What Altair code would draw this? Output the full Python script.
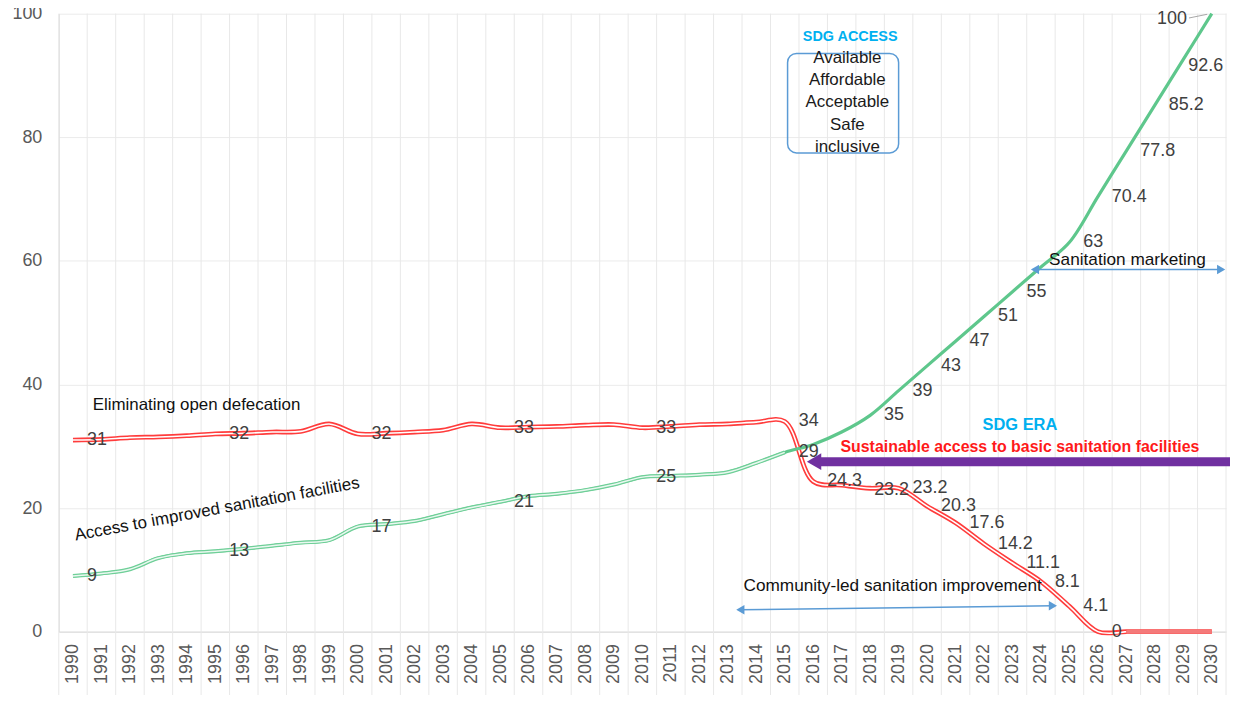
import altair as alt
import pandas as pd

# ---------------- data ----------------
years = list(range(1990, 2031))

red_values = [31, 31.1, 31.4, 31.5, 31.7, 32, 32.1, 32.3, 32.4, 33.6,
              32, 32.1, 32.3, 32.6, 33.6, 33, 33.1, 33.2, 33.4, 33.5,
              33, 33.2, 33.5, 33.6, 33.9, 34, 24.3, 23.7, 23.2, 23.2,
              20.3, 17.6, 14.2, 11.1, 8.1, 4.1, 0, 0, 0, 0, 0]

green_values = [9, 9.4, 10.1, 11.9, 12.7, 13, 13.4, 13.9, 14.4, 14.8,
                17, 17.4, 17.9, 19, 20.1, 21, 21.9, 22.3, 22.9, 23.8,
                25, 25.2, 25.4, 25.8, 27.3, 29, 30.3, 32.3, 35, 39,
                43, 47, 51, 55, 59, 63, 70.4, 77.8, 85.2, 92.6, 100]

red_labels = ["31", "", "", "", "", "32", "", "", "", "",
              "32", "", "", "", "", "33", "", "", "", "",
              "33", "", "", "", "", "34", "24.3", "", "23.2", "23.2",
              "20.3", "17.6", "14.2", "11.1", "8.1", "4.1", "0", "", "", "", ""]

green_labels = ["9", "", "", "", "", "13", "", "", "", "",
                "17", "", "", "", "", "21", "", "", "", "",
                "25", "", "", "", "", "29", "", "", "35", "39",
                "43", "47", "51", "55", "", "63", "70.4", "77.8", "85.2", "92.6", "100"]

y_ticks = [0, 20, 40, 60, 80, 100]

box_lines = ["Available", "Affordable", "Acceptable", "Safe", "inclusive"]

df = pd.DataFrame({
    "year": years * 2,
    "series": ["red"] * len(years) + ["green"] * len(years),
    "value": red_values + green_values,
    "label": red_labels + green_labels,
})

# ---------------- scales / axes ----------------
FONT = "Liberation Sans"
XS = alt.Scale(domain=[years[0] - 0.5, years[-1] + 0.5], nice=False, zero=False)
YS = alt.Scale(domain=[0, 100], nice=False)
XA = alt.Axis(values=years, format="d", labelAngle=270, labelAlign="right",
              labelBaseline="middle", grid=False, ticks=False, domainColor="#d9d9d9",
              labelPadding=12, labelFontSize=18, labelColor="#595959", title=None,
              labelOverlap=False, labelFlush=False, labelFont=FONT)
YA = alt.Axis(values=y_ticks, grid=True, gridColor="#ebebeb", ticks=False,
              domainColor="#d9d9d9", labelPadding=17, labelFontSize=18,
              labelColor="#595959", title=None, labelFlush=False, labelFont=FONT)


def ex(field):
    return alt.X(f"{field}:Q", scale=XS, axis=XA)


def ey(field):
    return alt.Y(f"{field}:Q", scale=YS, axis=YA)


# category boundary lines (grid + long ticks below axis)
bounds = pd.DataFrame({"b": [y - 0.5 for y in years] + [years[-1] + 0.5]})
bounds["top"] = 100
bounds["bot"] = -11.5
grid = alt.Chart(bounds).mark_rule(color="#e8e8e8", strokeWidth=1).encode(
    x=ex("b"), y=ey("top"), y2="bot:Q")

base = alt.Chart(df)

red_full = base.transform_filter("datum.series == 'red'").mark_line(
    interpolate="catmull-rom", color="#ff3c3c", strokeWidth=4.8).encode(x=ex("year"), y=ey("value"))
red_inner = base.transform_filter("datum.series == 'red' && datum.year <= 2027").mark_line(
    interpolate="catmull-rom", color="white", strokeWidth=1.6).encode(x=ex("year"), y=ey("value"))
red_tail = base.transform_filter("datum.series == 'red' && datum.year >= 2027").mark_line(
    color="#f47a7a", strokeWidth=4.5).encode(x=ex("year"), y=ey("value"))

green_full = base.transform_filter("datum.series == 'green'").mark_line(
    interpolate="catmull-rom", color="#5ec78c", strokeWidth=3.2).encode(x=ex("year"), y=ey("value"))
green_early = base.transform_filter("datum.series == 'green' && datum.year <= 2015").mark_line(
    interpolate="catmull-rom", color="#6fcf98", strokeWidth=4).encode(x=ex("year"), y=ey("value"))
green_inner = base.transform_filter("datum.series == 'green' && datum.year <= 2015").mark_line(
    interpolate="catmull-rom", color="white", strokeWidth=1.5, opacity=0.85).encode(x=ex("year"), y=ey("value"))

lab_common = dict(baseline="middle", fontSize=18, color="#404040", font=FONT)
labels_main = base.transform_filter(
    "datum.label != '' && !((datum.series == 'red' && datum.year == 2018) || (datum.series == 'green' && datum.year >= 2029))"
).mark_text(align="left", dx=14, **lab_common).encode(x=ex("year"), y=ey("value"), text="label:N")
label_r18 = base.transform_filter("datum.series == 'red' && datum.year == 2018").mark_text(
    align="left", dx=4, dy=2, **lab_common).encode(x=ex("year"), y=ey("value"), text="label:N")
label_g29 = base.transform_filter("datum.series == 'green' && datum.year == 2029").mark_text(
    align="left", dx=5, dy=7, **lab_common).encode(x=ex("year"), y=ey("value"), text="label:N")
label_g30 = base.transform_filter("datum.series == 'green' && datum.year == 2030").mark_text(
    align="right", dx=-25, dy=5, **lab_common).encode(x=ex("year"), y=ey("value"), text="label:N")


def note(text, x, y, **kw):
    d = pd.DataFrame({"x": [x], "y": [y], "t": [text]})
    return alt.Chart(d).mark_text(font=FONT, **kw).encode(x=ex("x"), y=ey("y"), text="t:N")


def seg(x1, y1, x2, y2, **kw):
    d = pd.DataFrame({"x": [x1], "y": [y1], "x2": [x2], "y2": [y2]})
    return alt.Chart(d).mark_rule(**kw).encode(x=ex("x"), y=ey("y"), x2="x2:Q", y2="y2:Q")


def head(x, y, shape, color, size):
    d = pd.DataFrame({"x": [x], "y": [y]})
    return alt.Chart(d).mark_point(shape=shape, filled=True, color=color, size=size, opacity=1).encode(
        x=ex("x"), y=ey("y"))


notes = [
    note("Eliminating open defecation", 1990.69, 36.7, align="left", baseline="middle", fontSize=17, color="#111111"),
    note("Access to improved sanitation facilities", 1995.06, 19.8, align="center", baseline="middle",
         fontSize=17, color="#111111", angle=349.5),
    note("SDG ACCESS", 2017.3, 96.3, align="center", baseline="middle", fontSize=14.5, fontWeight="bold",
         color="#00b0f0"),
    note("SDG ERA", 2023.26, 33.5, align="center", baseline="middle", fontSize=16.5, fontWeight="bold",
         color="#00b0f0"),
    note("Sustainable access to basic sanitation facilities", 2023.26, 29.8, align="center",
         baseline="middle", fontSize=16, fontWeight="bold", color="#ff1a1a"),
    note("Community-led sanitation improvement", 2018.79, 7.4, align="center", baseline="middle",
         fontSize=17.3, color="#111111"),
    note("Sanitation marketing", 2027.04, 60.1, align="center", baseline="middle", fontSize=17.3,
         color="#111111"),
]

box_df = pd.DataFrame({"t": box_lines, "x": [2017.2] * len(box_lines),
                       "y": [92.9 - 3.62 * i for i in range(len(box_lines))]})
box_text = alt.Chart(box_df).mark_text(font=FONT, fontSize=17, color="#1a1a1a", align="center",
                                       baseline="middle").encode(x=ex("x"), y=ey("y"), text="t:N")
box_rect_df = pd.DataFrame({"x": [2015.1], "x2": [2019.0], "y": [93.56], "y2": [77.46]})
box_rect = alt.Chart(box_rect_df).mark_rect(fillOpacity=0, stroke="#5b9bd5", strokeWidth=1.5,
                                            cornerRadius=9).encode(x=ex("x"), x2="x2:Q", y=ey("y"), y2="y2:Q")

shapes = [
    # purple arrow
    seg(2016.1, 27.5, 2031.0, 27.5, color="#7030a0", strokeWidth=9),
    head(2016.03, 27.5, "triangle-left", "#7030a0", 280),
    # community-led arrow
    seg(2013.44, 3.54, 2024.42, 4.19, color="#5b9bd5", strokeWidth=1.6),
    head(2013.44, 3.54, "triangle-left", "#5b9bd5", 90),
    head(2024.42, 4.19, "triangle-right", "#5b9bd5", 90),
    # sanitation marketing arrow
    seg(2023.79, 58.6, 2030.33, 58.6, color="#5b9bd5", strokeWidth=1.6),
    head(2023.79, 58.6, "triangle-left", "#5b9bd5", 90),
    head(2030.33, 58.6, "triangle-right", "#5b9bd5", 90),
    # leader line for the "100" label
    seg(2029.2, 99.3, 2029.84, 99.9, color="#a6a6a6", strokeWidth=1),
]

chart = alt.layer(
    grid, red_full, red_inner, red_tail, green_full, green_early, green_inner,
    labels_main, label_r18, label_g29, label_g30,
    box_rect, box_text, *notes, *shapes,
).properties(
    width=1173, height=621,
    autosize=alt.AutoSizeParams(type="none"),
    padding={"left": 51, "top": 4, "right": 4, "bottom": 62},
    background="white",
).configure(font=FONT).configure_view(strokeWidth=0)

chart.save("out.html", embed_options={"renderer": "svg", "actions": False})
